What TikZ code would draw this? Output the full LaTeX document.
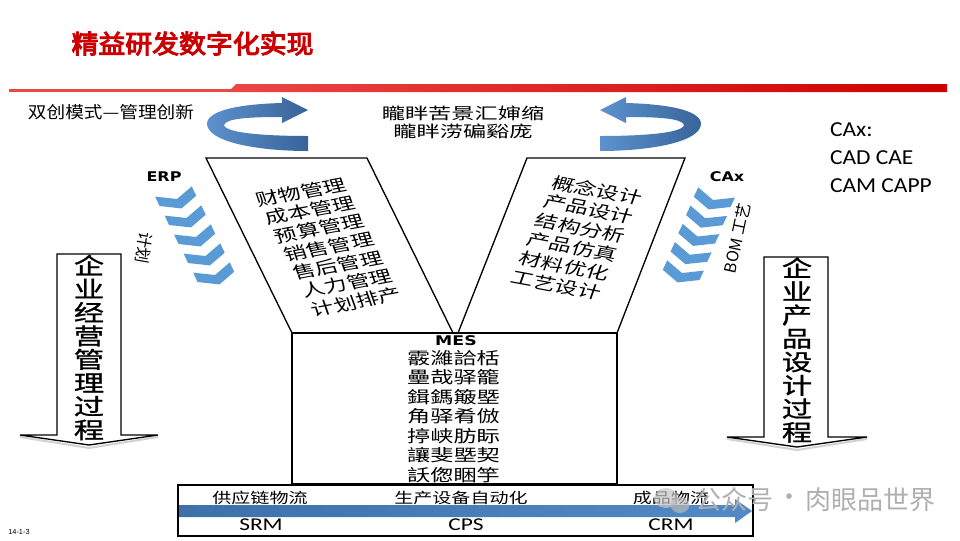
\documentclass[tikz,border=0pt]{standalone}
\usepackage{fontspec}
\setmainfont{Liberation Sans}
\newfontfamily\cjk{Noto Sans CJK SC}
\newfontfamily\cjkb[FakeBold=4]{Noto Sans CJK SC}
\newfontfamily\cjkm[FakeBold=1]{Noto Sans CJK SC}
\newfontfamily\dvs{DejaVu Sans}
\newfontfamily\carl{Carlito}
\newcommand\fsz[2]{\fontsize{#1}{#2}\selectfont}
\definecolor{titlered}{RGB}{204,0,0}
\definecolor{linered}{RGB}{236,70,70}
\definecolor{darkred}{RGB}{205,0,0}
\definecolor{chevblue}{RGB}{91,155,213}
\definecolor{ribbonA}{RGB}{92,146,206}
\definecolor{ribbonB}{RGB}{56,100,152}
\definecolor{flowA}{RGB}{62,112,170}
\definecolor{flowB}{RGB}{82,138,198}
\definecolor{wmgray}{RGB}{175,175,175}
\newcommand\chevron[3]{\fill[chevblue,shift={(#1,#2)},xscale=1.3,rotate=#3] (-15,-8) -- (0,0) -- (15,-8) -- (15,2) -- (0,10) -- (-15,2) -- cycle;}
\tikzset{
  frame/.style={draw=black, line width=1pt, fill=white},
  ptxt/.style={font=\cjk\fsz{12.5}{13}},
  vtxt/.style={font=\cjkm\fsz{17}{17.6}, align=center, xscale=1.333},
  flowtxt/.style={font=\cjk\fsz{11}{12}, xscale=1.3},
  flowabbr/.style={font=\carl\fsz{13.5}{14}, xscale=1.3},
  smalllbl/.style={font=\dvs\bfseries\fsz{10}{10}, xscale=1.2},
  wm/.style={font=\cjk\fsz{19.5}{20}, text=wmgray}
}
\begin{document}
\begin{tikzpicture}[x=0.75pt,y=-0.75pt, every node/.style={inner sep=0pt, outer sep=0pt}]
\useasboundingbox (0,0) rectangle (960,540);
\fill[white] (0,0) rectangle (960,540);

% title and rule
\node[font=\cjkb\fsz{19.2}{20}, text=titlered, xscale=1.05] (title) at (192.5,43.5) {精益研发数字化实现};
\fill[linered] (9,89) rectangle (232,92);
\shade[left color=linered, right color=darkred] (228,92) -- (236,84) -- (947,84) -- (947,92) -- cycle;

\node[font=\cjk\fsz{12.5}{13}, xscale=1.12] (mode) at (111,112.5) {双创模式—管理创新};

% curved ribbons
\shade[left color=ribbonA, right color=ribbonB] (308,151) .. controls (258,151) and (206,142) .. (207,123) .. controls (209,109) and (245,104) .. (282,103) -- (282,97) -- (308,110) -- (282,123) -- (282,117) .. controls (252,117) and (226,118) .. (224,125) .. controls (225,133) and (265,136) .. (308,136) -- cycle;
\begin{scope}[shift={(908,0)}, xscale=-1]
\shade[left color=ribbonA, right color=ribbonB] (308,151) .. controls (258,151) and (206,142) .. (207,123) .. controls (209,109) and (245,104) .. (282,103) -- (282,97) -- (308,110) -- (282,123) -- (282,117) .. controls (252,117) and (226,118) .. (224,125) .. controls (225,133) and (265,136) .. (308,136) -- cycle;
\end{scope}

\node[font=\cjk\fsz{12}{13.5}, align=center, xscale=1.45] (topnote) at (463,122.5) {矓眫苦景汇婶缩\\矓眫涝碥谿庞};

% CAx list
\node[anchor=west, align=left, font=\carl\fsz{16}{21}, xscale=1.1] (caxlist) at (830,158) {CAx:\\CAD CAE\\CAM CAPP};

% parallelograms and MES box
\draw[frame] (206,158) -- (367,158) -- (453,333) -- (292,333) -- cycle;
\draw[frame] (527,158) -- (685,158) -- (617,333) -- (458,333) -- cycle;
\draw[frame] (292,333) rectangle (617,484);

% left texts
\node[ptxt, xscale=1.38, rotate=14.3] (l1) at (301,192) {财物管理};
\node[ptxt, xscale=1.38, rotate=14.3] (l2) at (310.2,210.3) {成本管理};
\node[ptxt, xscale=1.38, rotate=14.3] (l3) at (319.4,228.6) {预算管理};
\node[ptxt, xscale=1.38, rotate=14.3] (l4) at (328.6,246.9) {销售管理};
\node[ptxt, xscale=1.38, rotate=14.3] (l5) at (337.8,265.2) {售后管理};
\node[ptxt, xscale=1.38, rotate=14.3] (l6) at (347,283.5) {人力管理};
\node[ptxt, xscale=1.38, rotate=14.3] (l7) at (356.2,301.8) {计划排产};
% right texts
\node[ptxt, xscale=1.38, rotate=-14.3] (r1) at (597,190) {概念设计};
\node[ptxt, xscale=1.38, rotate=-14.3] (r2) at (588.8,209) {产品设计};
\node[ptxt, xscale=1.38, rotate=-14.3] (r3) at (580.6,228) {结构分析};
\node[ptxt, xscale=1.38, rotate=-14.3] (r4) at (572.4,247) {产品仿真};
\node[ptxt, xscale=1.38, rotate=-14.3] (r5) at (564.2,266) {材料优化};
\node[ptxt, xscale=1.38, rotate=-14.3] (r6) at (556,285) {工艺设计};

% MES
\node[font=\dvs\bfseries\fsz{10}{10}, xscale=1.3] (mes) at (456,341) {MES};
\node[font=\cjk\fsz{12.5}{14.6}, align=center, xscale=1.39] (meslist) at (453.5,416.5) {霰濰詥栝\\壘哉驿籠\\鍓鎷簸塈\\角驿肴倣\\揨峡肪眎\\讓斐塈契\\訞偬睏竽};

% chevrons
\chevron{177}{199}{20}
\chevron{186.5}{218}{20}
\chevron{196}{237}{20}
\chevron{205.5}{256}{20}
\chevron{215}{275}{20}
\chevron{713}{200}{-20}
\chevron{705.25}{218.25}{-20}
\chevron{697.5}{236.5}{-20}
\chevron{689.75}{254.75}{-20}
\chevron{682}{273}{-20}

\node[smalllbl] (erp) at (164,177) {ERP};
\node[smalllbl] (cax) at (727,177) {CAx};
\node[font=\cjk\fsz{12}{12}, rotate=-100] (plan) at (144,248) {计划};
\node[font=\cjk\fsz{12}{12}, rotate=78] (bom) at (737,238) {BOM 工艺};

% down arrows
\fill[gray!35] (20,436) -- (89,447) -- (158,436) -- (158,438) -- (89,449) -- (20,438) -- cycle;
\draw[frame] (57,254) -- (121,254) -- (121,435) -- (158,435) -- (89,445) -- (20,435) -- (57,435) -- cycle;
\fill[gray!35] (727,438) -- (797,449) -- (867,438) -- (867,440) -- (797,451) -- (727,440) -- cycle;
\draw[frame] (764,257) -- (828,257) -- (828,437) -- (867,437) -- (797,447) -- (727,437) -- (764,437) -- cycle;
\node[vtxt] (leftproc) at (89,347.5) {企\\业\\经\\营\\管\\理\\过\\程};
\node[vtxt] (rightproc) at (797,350) {企\\业\\产\\品\\设\\计\\过\\程};

% bottom flow box
\draw[frame] (178,485) rectangle (753,536);
\shade[left color=flowA, right color=flowB] (179,505) -- (735,505) -- (735,499) -- (752,511) -- (735,523) -- (735,517) -- (179,517) -- cycle;
\node[flowtxt] (f1) at (260,498) {供应链物流};
\node[flowtxt] (f2) at (461,498) {生产设备自动化};
\node[flowtxt] (f3) at (671,498) {成品物流};
\node[flowabbr] (a1) at (261,525) {SRM};
\node[flowabbr] (a2) at (466,525) {CPS};
\node[flowabbr] (a3) at (671,525) {CRM};

% watermark
\fill[gray!45, opacity=0.7] (666,498) ellipse [x radius=9pt, y radius=7.5pt];
\fill[gray!55, opacity=0.7] (680,505) ellipse [x radius=7pt, y radius=6pt];
\node[wm] (wm1) at (734,500) {公众号};
\node[wm] (wm2) at (789,500) {·};
\node[wm] (wm3) at (870.5,500) {肉眼品世界};

\node[font=\fsz{5.5}{6}] (pageno) at (19,532) {14-1-3};
\end{tikzpicture}
\end{document}
